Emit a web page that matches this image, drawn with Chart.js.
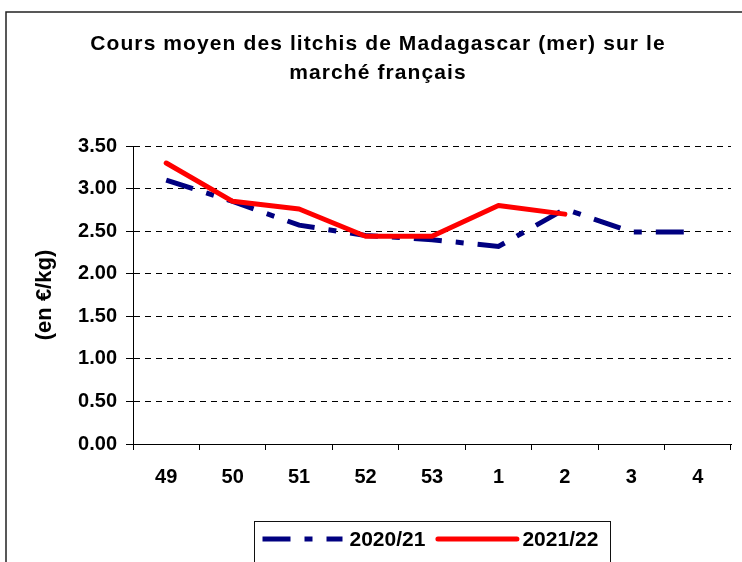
<!DOCTYPE html>
<html>
<head>
<meta charset="utf-8">
<script src="https://cdn.jsdelivr.net/npm/chart.js@4.4.1/dist/chart.umd.min.js"></script>
<style>
  html, body { margin: 0; padding: 0; background: #fff; }
  canvas { display: block; }
</style>
</head>
<body>
<canvas id="c" width="742" height="562"></canvas>
<script>
// ---- data ----
const categories = ['49', '50', '51', '52', '53', '1', '2', '3', '4'];
const series2020_21 = [3.10, 2.85, 2.57, 2.45, 2.40, 2.32, 2.76, 2.49, 2.49];
const series2021_22 = [3.30, 2.85, 2.76, 2.44, 2.44, 2.80, 2.70, null, null];
const seriesLabels = ['2020/21', '2021/22'];
const yTicks = [0, 0.5, 1, 1.5, 2, 2.5, 3, 3.5];
const titleLines = ['Cours moyen des litchis de Madagascar (mer) sur le', 'marché français'];
const yTitle = '(en €/kg)';

const FONT = '"Liberation Sans", Arial, sans-serif';

const framePlugin = {
  id: 'frame',
  beforeDraw(chart) {
    const ctx = chart.ctx;
    ctx.save();
    ctx.fillStyle = '#fff';
    ctx.fillRect(0, 0, chart.width, chart.height);
    ctx.strokeStyle = '#222';
    ctx.lineWidth = 1.5;
    ctx.strokeRect(6, 12, chart.width + 10, chart.height + 10);
    ctx.restore();
    // widen title letter spacing (Excel-like rendering)
    const tb = chart.titleBlock;
    if (tb && !tb._spaced) {
      const orig = tb.draw.bind(tb);
      tb.draw = function (area) {
        const c = chart.ctx;
        c.save();
        c.letterSpacing = '1.1px';
        orig(area);
        c.restore();
      };
      tb._spaced = true;
    }
  },
  afterDraw(chart) {
    // custom legend built from the datasets
    const ctx = chart.ctx;
    const ds = chart.data.datasets;
    const order = [ds.findIndex(d => d.label === seriesLabels[0]), ds.findIndex(d => d.label === seriesLabels[1])];
    ctx.save();
    ctx.font = 'bold 21px ' + FONT;
    const sampleW = [80, 84];
    const gapAfterSample = [7, 3];
    const gapAfterText = 10;
    let total = 0;
    order.forEach((i, k) => {
      total += sampleW[k] + gapAfterSample[k] + ctx.measureText(ds[i].label).width;
      if (k === 0) total += gapAfterText;
    });
    const padL = 8, padR = 12;
    const boxW = Math.round(total + padL + padR);
    const cx = (chart.chartArea.left + chart.chartArea.right) / 2;
    const boxL = Math.round(cx - boxW / 2) + 0.5;
    const boxT = 521.5;
    ctx.strokeStyle = '#111';
    ctx.lineWidth = 1;
    ctx.strokeRect(boxL, boxT, boxW, 80);
    let x = boxL + padL;
    const y = 539;
    order.forEach((i, k) => {
      const d = ds[i];
      ctx.beginPath();
      ctx.setLineDash(d.borderDash || []);
      ctx.strokeStyle = d.borderColor;
      ctx.lineWidth = d.borderWidth;
      ctx.lineCap = d.borderCapStyle || 'butt';
      const capOff = ctx.lineCap === 'round' ? d.borderWidth / 2 : 0;
      ctx.moveTo(x + capOff, y);
      ctx.lineTo(x + sampleW[k] - capOff, y);
      ctx.stroke();
      ctx.setLineDash([]);
      x += sampleW[k] + gapAfterSample[k];
      ctx.fillStyle = '#000';
      ctx.textBaseline = 'middle';
      ctx.textAlign = 'left';
      ctx.fillText(d.label, x, y + 1);
      x += ctx.measureText(d.label).width + gapAfterText;
    });
    ctx.restore();
  }
};

new Chart(document.getElementById('c'), {
  type: 'line',
  data: {
    labels: categories,
    datasets: [
      {
        label: seriesLabels[0],
        data: series2020_21,
        borderColor: '#000080',
        backgroundColor: '#000080',
        borderWidth: 5,
        borderDash: [28, 14, 8, 14],
        borderCapStyle: 'butt',
        pointRadius: 0,
        tension: 0,
        fill: false,
        order: 2
      },
      {
        label: seriesLabels[1],
        data: series2021_22,
        borderColor: '#FF0000',
        backgroundColor: '#FF0000',
        borderWidth: 5,
        borderCapStyle: 'round',
        borderJoinStyle: 'round',
        pointRadius: 0,
        tension: 0,
        fill: false,
        spanGaps: false,
        order: 1
      }
    ]
  },
  options: {
    responsive: false,
    animation: false,
    devicePixelRatio: 1,
    layout: { padding: { left: 25, right: 11, top: 0, bottom: 58 } },
    plugins: {
      legend: { display: false },
      tooltip: { enabled: false },
      title: {
        display: true,
        text: titleLines,
        color: '#000',
        font: { family: FONT, size: 21, weight: 'bold', lineHeight: 1.381 },
        padding: { top: 29.5, bottom: 58.5 }
      }
    },
    scales: {
      x: {
        type: 'category',
        offset: true,
        afterFit(scale) { scale.height = 60; },
        grid: {
          display: true,
          offset: true,
          drawOnChartArea: false,
          drawTicks: true,
          tickLength: 6,
          color: '#000',
          tickColor: '#000'
        },
        border: { display: true, color: '#000', width: 1 },
        ticks: {
          color: '#000',
          padding: 15,
          maxRotation: 0,
          autoSkip: false,
          font: { family: FONT, size: 20, weight: 'bold' }
        }
      },
      y: {
        min: 0,
        max: 3.5,
        afterFit(scale) { scale.width = 108; },
        afterBuildTicks(scale) { scale.ticks = yTicks.map(v => ({ value: v })); },
        grid: {
          color: '#000',
          lineWidth: 1,
          drawTicks: true,
          tickLength: 7,
          tickColor: '#000',
          tickBorderDash: []
        },
        border: { display: true, color: '#000', width: 1, dash: [6, 5] },
        ticks: {
          color: '#000',
          padding: 9,
          font: { family: FONT, size: 20, weight: 'bold' },
          callback: (v) => Number(v).toFixed(2)
        },
        title: {
          display: true,
          text: yTitle,
          color: '#000',
          font: { family: FONT, size: 22, weight: 'bold', lineHeight: 1.2 },
          padding: { top: 6.8, bottom: 0 }
        }
      }
    }
  },
  plugins: [framePlugin]
});
</script>
</body>
</html>
